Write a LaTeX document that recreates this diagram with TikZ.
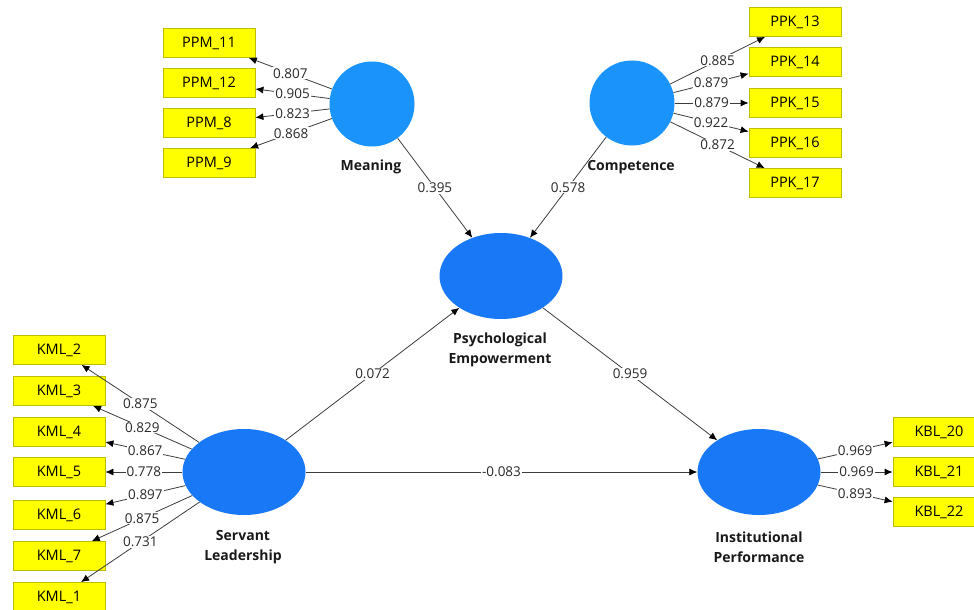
\documentclass[tikz,border=0pt]{standalone}
\usepackage{fontspec}
\setmainfont{Open Sans}
\usetikzlibrary{shapes.geometric,arrows.meta}
\definecolor{lvA}{RGB}{26,148,250}
\definecolor{lvB}{RGB}{24,120,245}
\definecolor{indF}{RGB}{255,255,0}
\definecolor{indD}{RGB}{190,190,0}
\definecolor{edgeC}{RGB}{60,60,60}
\definecolor{numC}{RGB}{40,40,40}
\tikzset{
  lvcirc/.style={circle,fill=lvA,minimum size=85pt,inner sep=0pt},
  lvell/.style={ellipse,fill=lvB,minimum width=123pt,minimum height=86pt,inner sep=0pt},
  ind/.style={rectangle,fill=indF,draw=indD,line width=0.8pt,minimum width=92pt,minimum height=29pt,inner sep=0pt,font=\fontsize{14.5}{16}\selectfont,text=black},
  lvlbl/.style={font=\fontsize{14}{20}\selectfont\bfseries,align=center,text=black!90},
  conn/.style={draw=edgeC,line width=0.8pt,-{Latex[length=8pt,width=7pt,color=black]}},
  num/.style={fill=white,inner sep=1pt,font=\fontsize{13.5}{15}\selectfont,text=numC}
}
\begin{document}
\begin{tikzpicture}[x=1pt,y=-1pt]
\useasboundingbox (0,0) rectangle (974,610);
% latent variables
\node[lvcirc] (mea) at (372,104) {};
\node[lvcirc] (com) at (632,103) {};
\node[lvell] (pe) at (501,276) {};
\node[lvell] (sl) at (244,472) {};
\node[lvell] (ip) at (759,472) {};
% labels
\node[lvlbl] (meaL) at (371,167) {Meaning};
\node[lvlbl] (comL) at (631,167) {Competence};
\node[lvlbl] (peL) at (500,350) {Psychological\\Empowerment};
\node[lvlbl] (slL) at (243,547) {Servant\\Leadership};
\node[lvlbl] (ipL) at (759,547) {Institutional\\Performance};
% indicators
\node[ind] (ppm11) at (209,43) {PPM\_11};
\node[ind] (ppm12) at (209,83) {PPM\_12};
\node[ind] (ppm8) at (209,123) {PPM\_8};
\node[ind] (ppm9) at (209,163) {PPM\_9};
\node[ind] (ppk13) at (795,22) {PPK\_13};
\node[ind] (ppk14) at (795,62) {PPK\_14};
\node[ind] (ppk15) at (795,103) {PPK\_15};
\node[ind] (ppk16) at (795,143) {PPK\_16};
\node[ind] (ppk17) at (795,183) {PPK\_17};
\node[ind] (kml2) at (59,350) {KML\_2};
\node[ind] (kml3) at (59,391) {KML\_3};
\node[ind] (kml4) at (59,432) {KML\_4};
\node[ind] (kml5) at (59,472) {KML\_5};
\node[ind] (kml6) at (59,515) {KML\_6};
\node[ind] (kml7) at (59,556) {KML\_7};
\node[ind] (kml1) at (59,597) {KML\_1};
\node[ind] (kbl20) at (939,432) {KBL\_20};
\node[ind] (kbl21) at (939,472) {KBL\_21};
\node[ind] (kbl22) at (939,512) {KBL\_22};
% outer loadings
\draw[conn] (mea) -- node[num]{0.807} (ppm11);
\draw[conn] (mea) -- node[num]{0.905} (ppm12);
\draw[conn] (mea) -- node[num]{0.823} (ppm8);
\draw[conn] (mea) -- node[num]{0.868} (ppm9);
\draw[conn] (com) -- node[num]{0.885} (ppk13);
\draw[conn] (com) -- node[num]{0.879} (ppk14);
\draw[conn] (com) -- node[num]{0.879} (ppk15);
\draw[conn] (com) -- node[num]{0.922} (ppk16);
\draw[conn] (com) -- node[num]{0.872} (ppk17);
\draw[conn] (sl) -- node[num]{0.875} (kml2);
\draw[conn] (sl) -- node[num]{0.829} (kml3);
\draw[conn] (sl) -- node[num]{0.867} (kml4);
\draw[conn] (sl) -- node[num]{0.778} (kml5);
\draw[conn] (sl) -- node[num]{0.897} (kml6);
\draw[conn] (sl) -- node[num]{0.875} (kml7);
\draw[conn] (sl) -- node[num]{0.731} (kml1);
\draw[conn] (ip) -- node[num]{0.969} (kbl20);
\draw[conn] (ip) -- node[num]{0.969} (kbl21);
\draw[conn] (ip) -- node[num]{0.893} (kbl22);
% structural paths
\draw[conn] (mea) -- node[num]{0.395} (pe);
\draw[conn] (com) -- node[num]{0.578} (pe);
\draw[conn] (sl) -- node[num]{0.072} (pe);
\draw[conn] (pe) -- node[num]{0.959} (ip);
\draw[conn] (sl) -- node[num]{-0.083} (ip);
\end{tikzpicture}
\end{document}
